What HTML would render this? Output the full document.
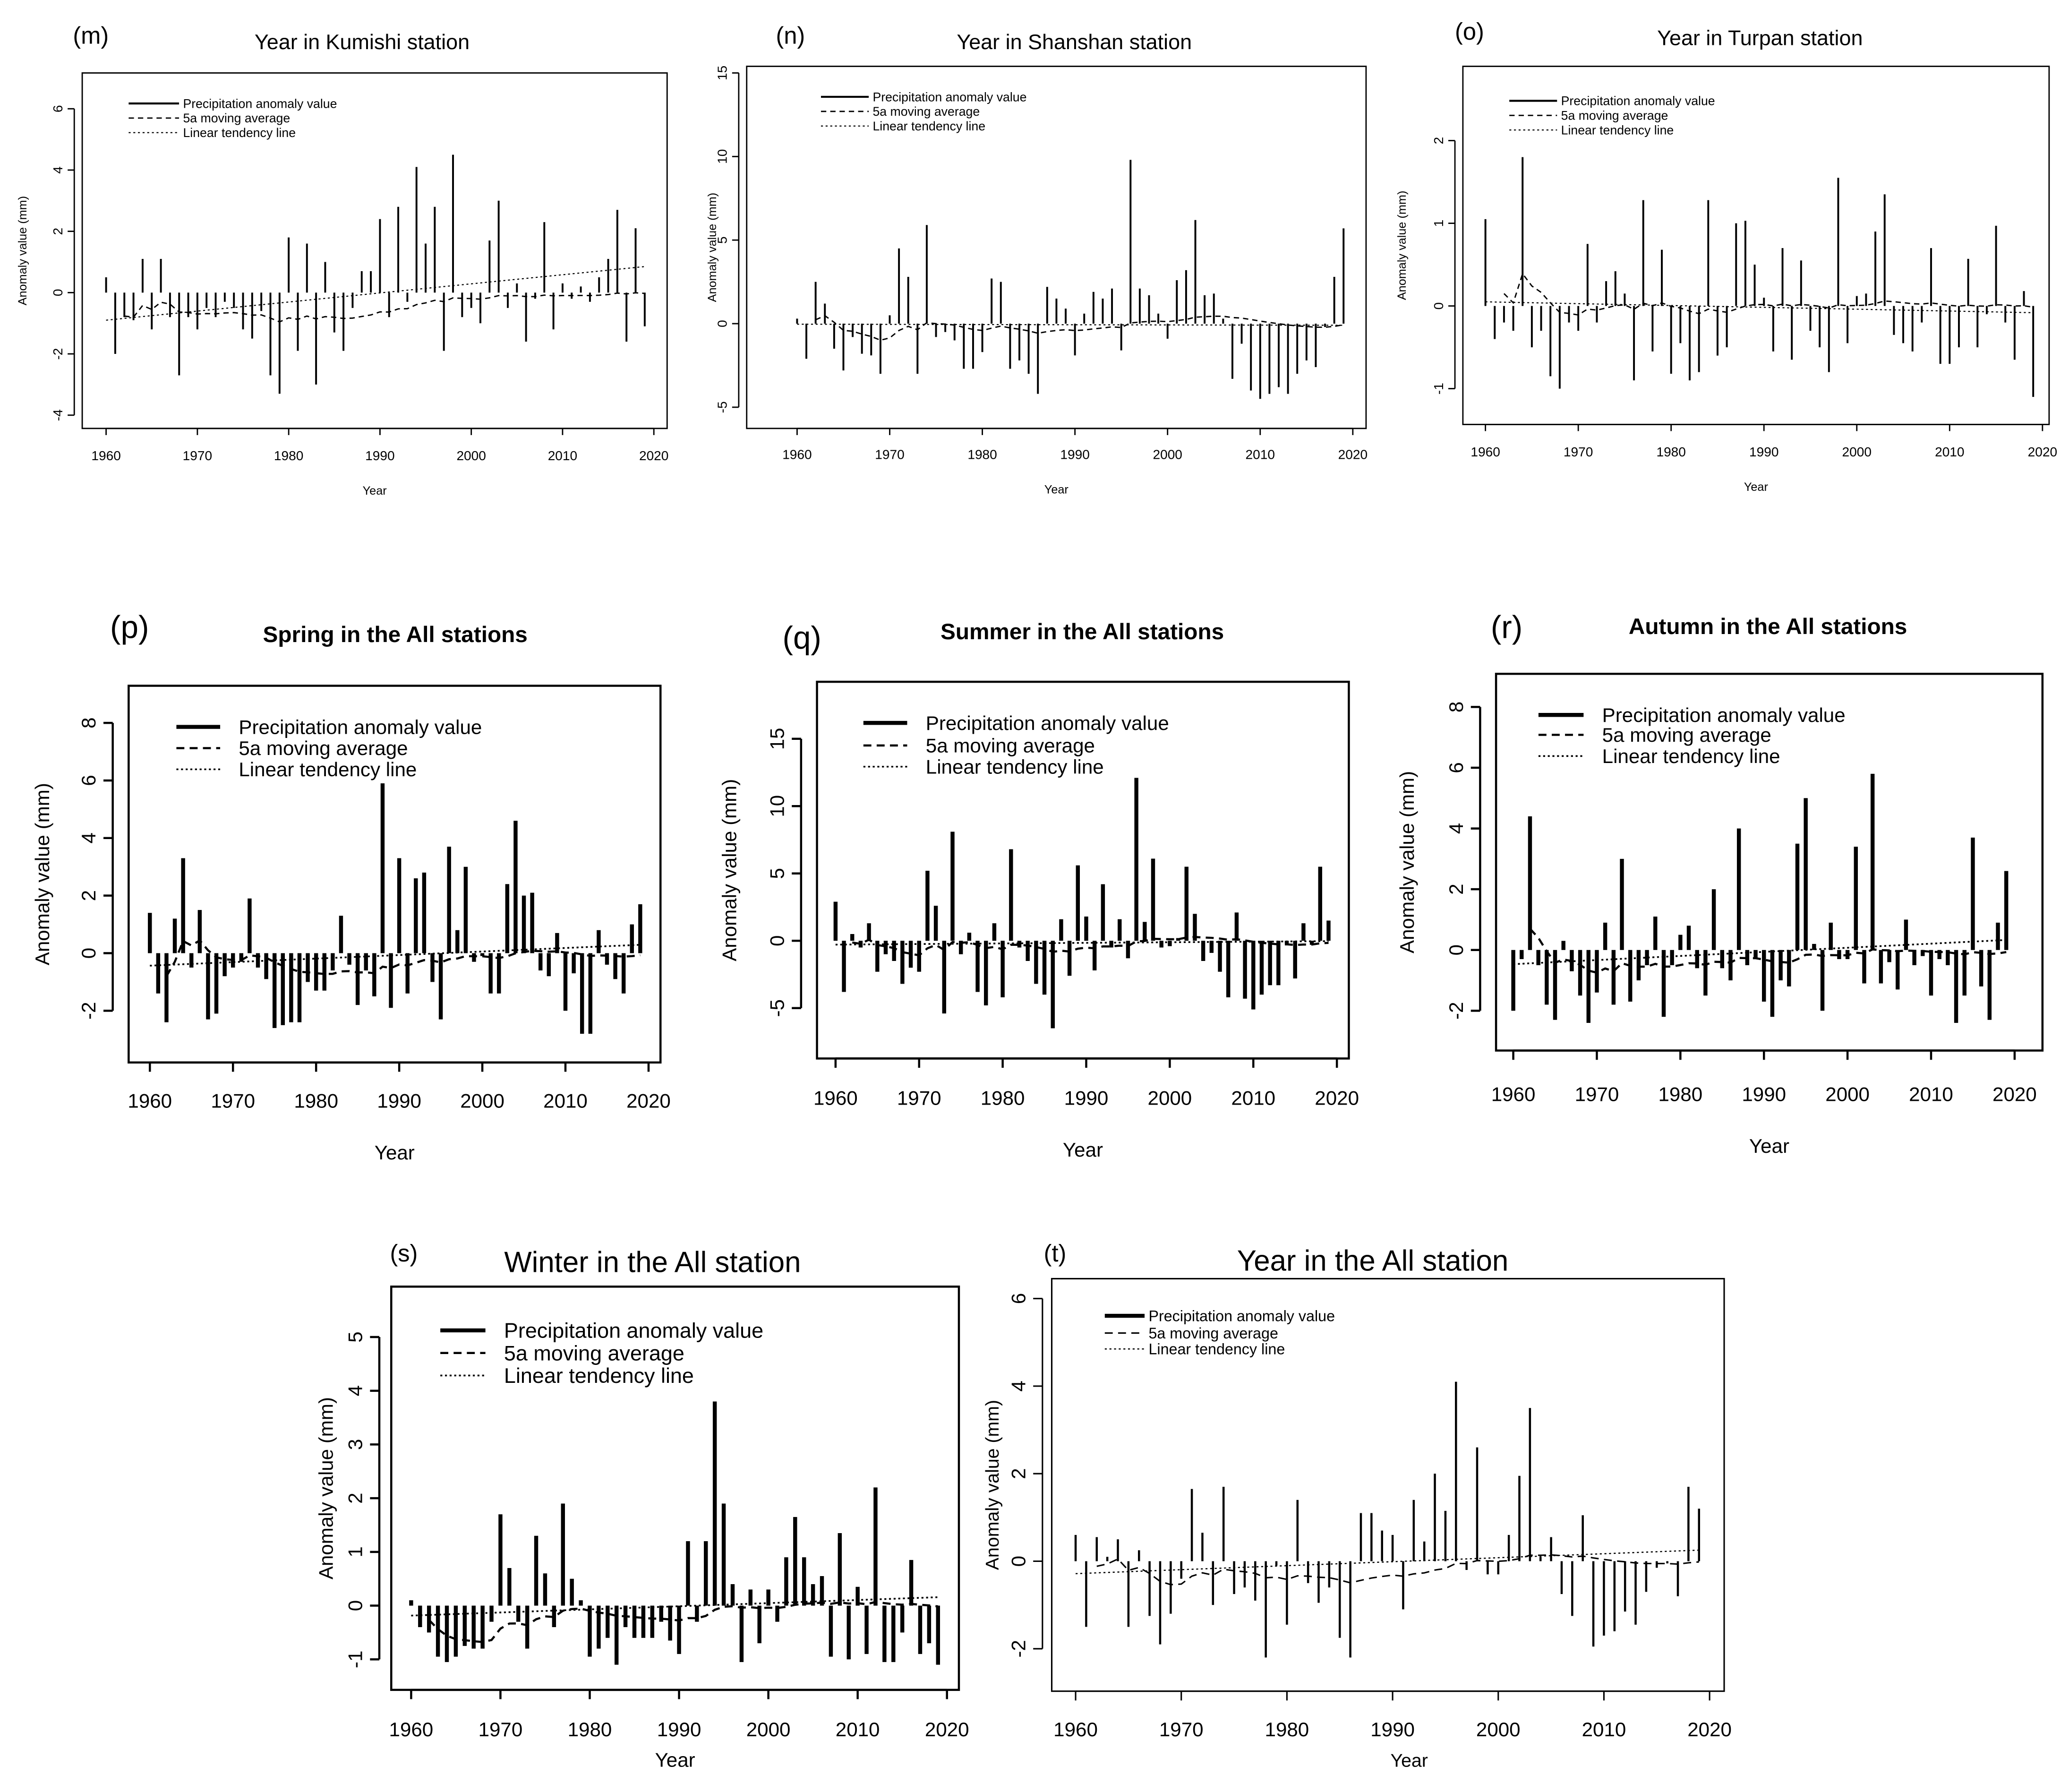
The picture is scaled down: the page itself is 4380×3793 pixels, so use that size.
<!DOCTYPE html>
<html><head><meta charset="utf-8">
<style>
html,body{margin:0;padding:0;background:#fff;}
svg{display:block;font-family:"Liberation Sans",sans-serif;}
</style></head>
<body>
<svg id="fig" xmlns="http://www.w3.org/2000/svg" width="4380" height="3793" viewBox="0 0 1560 1351" preserveAspectRatio="none"></svg>
<script>
const years = [];
for (let y = 1960; y <= 2019; y++) years.push(y);
const xTickLabels = [1960,1970,1980,1990,2000,2010,2020];

const kumishiValues = [0.5,-2.0,-0.8,-0.9,1.1,-1.2,1.1,-0.8,-2.7,-0.8,-1.2,-0.5,-0.8,-0.3,-0.5,-1.2,-1.5,-0.6,-2.7,-3.3,1.8,-1.9,1.6,-3.0,1.0,-1.3,-1.9,-0.5,0.7,0.7,2.4,-0.8,2.8,-0.3,4.1,1.6,2.8,-1.9,4.5,-0.8,-0.5,-1.0,1.7,3.0,-0.5,0.3,-1.6,-0.2,2.3,-1.2,0.3,-0.2,0.2,-0.3,0.5,1.1,2.7,-1.6,2.1,-1.1];
const kumishiTicks = [-4,-2,0,2,4,6];
const shanshanValues = [0.3,-2.1,2.5,1.2,-1.5,-2.8,-0.8,-1.8,-1.9,-3.0,0.5,4.5,2.8,-3.0,5.9,-0.8,-0.5,-1.0,-2.7,-2.7,-1.7,2.7,2.5,-2.7,-2.2,-3.0,-4.2,2.2,1.5,0.9,-1.9,0.6,1.9,1.5,2.1,-1.6,9.8,2.1,1.7,0.6,-0.9,2.6,3.2,6.2,1.7,1.8,0.3,-3.3,-1.2,-4.0,-4.5,-4.2,-3.8,-4.2,-3.0,-2.2,-2.6,-0.2,2.8,5.7];
const shanshanTicks = [-5,0,5,10,15];
const turpanValues = [1.05,-0.4,-0.2,-0.3,1.8,-0.5,-0.3,-0.85,-1.0,-0.2,-0.3,0.75,-0.2,0.3,0.42,0.15,-0.9,1.28,-0.55,0.68,-0.82,-0.45,-0.9,-0.8,1.28,-0.6,-0.5,1.0,1.03,0.5,0.1,-0.55,0.7,-0.65,0.55,-0.3,-0.5,-0.8,1.55,-0.45,0.12,0.15,0.9,1.35,-0.35,-0.45,-0.55,-0.2,0.7,-0.7,-0.7,-0.5,0.57,-0.5,-0.1,0.97,-0.2,-0.65,0.18,-1.1];
const turpanTicks = [-1,0,1,2];
const springValues = [1.4,-1.4,-2.4,1.2,3.3,-0.5,1.5,-2.3,-2.1,-0.8,-0.5,-0.3,1.9,-0.5,-0.9,-2.6,-2.5,-2.4,-2.4,-1.0,-1.3,-1.3,-0.6,1.3,-0.4,-1.8,-0.6,-1.5,5.9,-1.9,3.3,-1.4,2.6,2.8,-1.0,-2.3,3.7,0.8,3.0,-0.3,-0.1,-1.4,-1.4,2.4,4.6,2.0,2.1,-0.6,-0.8,0.7,-2.0,-0.7,-2.8,-2.8,0.8,-0.4,-0.9,-1.4,1.0,1.7];
const springTicks = [-2,0,2,4,6,8];
const summerValues = [2.9,-3.8,0.5,-0.5,1.3,-2.3,-1.0,-1.5,-3.2,-2.0,-2.3,5.2,2.6,-5.4,8.1,-1.0,0.6,-3.8,-4.8,1.3,-4.2,6.8,-0.5,-1.5,-3.2,-4.0,-6.5,1.6,-2.6,5.6,1.8,-2.2,4.2,-0.5,1.6,-1.3,12.1,1.4,6.1,-0.5,-0.4,0.2,5.5,2.0,-1.5,-0.9,-2.3,-4.2,2.1,-4.3,-5.1,-4.0,-3.3,-3.3,-0.2,-2.8,1.3,-0.3,5.5,1.5];
const summerTicks = [-5,0,5,10,15];
const autumnValues = [-2.0,-0.3,4.4,-0.5,-1.8,-2.3,0.3,-0.7,-1.5,-2.4,-1.4,0.9,-1.8,3.0,-1.7,-1.0,-0.5,1.1,-2.2,-0.5,0.5,0.8,-0.6,-1.5,2.0,-0.6,-1.0,4.0,-0.5,-0.3,-1.7,-2.2,-1.0,-1.2,3.5,5.0,0.2,-2.0,0.9,-0.3,-0.3,3.4,-1.1,5.8,-1.1,-0.4,-1.3,1.0,-0.5,-0.2,-1.5,-0.3,-0.5,-2.4,-1.5,3.7,-1.2,-2.3,0.9,2.6];
const autumnTicks = [-2,0,2,4,6,8];
const winterValues = [0.1,-0.4,-0.5,-0.95,-1.05,-0.95,-0.75,-0.8,-0.8,-0.3,1.7,0.7,-0.3,-0.8,1.3,0.6,-0.4,1.9,0.5,0.1,-0.95,-0.8,-0.6,-1.1,-0.4,-0.6,-0.6,-0.6,-0.3,-0.65,-0.9,1.2,-0.3,1.2,3.8,1.9,0.4,-1.05,0.3,-0.7,0.3,-0.3,0.9,1.65,0.9,0.4,0.55,-0.95,1.35,-1.0,0.35,-0.9,2.2,-1.05,-1.05,-0.5,0.85,-0.9,-0.7,-1.1];
const winterTicks = [-1,0,1,2,3,4,5];
const yearAllValues = [0.6,-1.5,0.55,0.1,0.5,-1.5,0.25,-1.25,-1.9,-1.2,-0.4,1.65,0.65,-1.0,1.7,-0.75,-0.6,-0.9,-2.2,-0.1,-1.45,1.4,-0.5,-0.95,-0.6,-1.75,-2.2,1.1,1.1,0.7,0.6,-1.1,1.4,0.45,2.0,1.15,4.1,-0.2,2.6,-0.3,-0.3,0.6,1.95,3.5,0.1,0.55,-0.75,-1.25,1.05,-1.95,-1.7,-1.6,-1.15,-1.45,-0.7,-0.15,-0.05,-0.8,1.7,1.2];
const yearAllTicks = [-2,0,2,4,6];

const NS = "http://www.w3.org/2000/svg";
const svg = document.getElementById('fig');
function mk(tag, attrs, parent, txt) {
  const e = document.createElementNS(NS, tag);
  for (const k in attrs) e.setAttribute(k, attrs[k]);
  if (txt !== undefined) e.textContent = txt;
  (parent || svg).appendChild(e);
  return e;
}

const panels = [
 {key:'m', letter:'(m)', title:'Year in Kumishi station', bold:false, values:kumishiValues, ticks:kumishiTicks,
  frame:[62,55,503,323], x0:80, x1:493, v0:-4, p0:313, v1:6, p1:82, bw:1.4, tfs:10, titleFs:16, titleX:273, titleY:37, letX:55, letY:33, letFs:18,
  xlY:347, yearY:373, ylabX:20, legX:97, legLen:38, legY2:[78,89,100], legFs:9.5, labFs:9, lw:1},
 {key:'n', letter:'(n)', title:'Year in Shanshan station', bold:false, values:shanshanValues, ticks:shanshanTicks,
  frame:[563,50,1030,323], x0:601, x1:1020, v0:-5, p0:307, v1:15, p1:55, bw:1.4, tfs:10, titleFs:16, titleX:810, titleY:37, letX:585, letY:33, letFs:18,
  xlY:346, yearY:372, ylabX:540, legX:619, legLen:36, legY2:[73,84,95], legFs:9.5, labFs:9, lw:1},
 {key:'o', letter:'(o)', title:'Year in Turpan station', bold:false, values:turpanValues, ticks:turpanTicks,
  frame:[1103,50,1545,320], x0:1120, x1:1540, v0:-1, p0:293, v1:2, p1:106, bw:1.4, tfs:10, titleFs:16, titleX:1327, titleY:34, letX:1097, letY:30, letFs:18,
  xlY:344, yearY:370, ylabX:1060, legX:1138, legLen:36, legY2:[76,87,98], legFs:9.5, labFs:9, lw:1},
 {key:'p', letter:'(p)', title:'Spring in the All stations', bold:true, values:springValues, ticks:springTicks,
  frame:[97,517,498,801], x0:113, x1:489, v0:-2, p0:762, v1:8, p1:545, bw:3, tfs:15, titleFs:17, titleX:298, titleY:484, letX:83, letY:481, letFs:24,
  xlY:835, yearY:874, ylabX:37, legX:133, legLen:33, legY2:[548,564,580], legFs:15, labFs:15, lw:1.6, off:12},
 {key:'q', letter:'(q)', title:'Summer in the All stations', bold:true, values:summerValues, ticks:summerTicks,
  frame:[616,514,1017,798], x0:630, x1:1008, v0:-5, p0:760, v1:15, p1:557, bw:3, tfs:15, titleFs:17, titleX:816, titleY:482, letX:590, letY:489, letFs:24,
  xlY:833, yearY:872, ylabX:555, legX:651, legLen:33, legY2:[545,562,578], legFs:15, labFs:15, lw:1.6, off:12},
 {key:'r', letter:'(r)', title:'Autumn in the All stations', bold:true, values:autumnValues, ticks:autumnTicks,
  frame:[1128,508,1540,792], x0:1141, x1:1519, v0:-2, p0:762, v1:8, p1:533, bw:3, tfs:15, titleFs:17, titleX:1333, titleY:478, letX:1124, letY:481, letFs:24,
  xlY:830, yearY:869, ylabX:1066, legX:1160, legLen:34, legY2:[539,554,570], legFs:15, labFs:15, lw:1.6, off:12},
 {key:'s', letter:'(s)', title:'Winter in the All station', bold:false, values:winterValues, ticks:winterTicks,
  frame:[295,970,723,1274], x0:310, x1:714, v0:-1, p0:1251, v1:5, p1:1008, bw:3, tfs:15, titleFs:22, titleX:492, titleY:959, letX:294, letY:951, letFs:18,
  xlY:1309, yearY:1332, ylabX:251, legX:332, legLen:34, legY2:[1003,1020,1037], legFs:16, labFs:15, lw:1.6, off:9},
 {key:'t', letter:'(t)', title:'Year in the All station', bold:false, values:yearAllValues, ticks:yearAllTicks,
  frame:[793,964,1300,1275], x0:811, x1:1289, v0:-2, p0:1243, v1:6, p1:979, bw:1.6, tfs:15, titleFs:22, titleX:1035, titleY:958, letX:787, letY:951, letFs:18,
  xlY:1309, yearY:1332, ylabX:753, legX:833, legLen:30, legY2:[992,1005,1017], legFs:11.5, labFs:14, lw:1.1, off:7}
];

function runningMean(v){
  const out=[];let s=0;
  for(let i=0;i<v.length;i++){s+=v[i]; if(i>=2) out.push([i,s/(i+1)]);}
  return out;
}
function linFit(v){
  const n=v.length;let sx=0,sy=0,sxx=0,sxy=0;
  v.forEach((y,i)=>{sx+=i;sy+=y;sxx+=i*i;sxy+=i*y;});
  const b=(n*sxy-sx*sy)/(n*sxx-sx*sx);const a=(sy-b*sx)/n;return [a,b];
}

panels.forEach(p=>{
  const g = mk('g',{});
  
  
  const X = yr => p.x0 + (yr-1960)*(p.x1-p.x0)/60;
  const Y = v => p.p0 + (v-p.v0)*(p.p1-p.p0)/(p.v1-p.v0);
  const [fx0,fy0,fx1,fy1]=p.frame;
  const fr = mk('rect',{x:fx0,y:fy0,width:fx1-fx0,height:fy1-fy0,fill:'none',stroke:'#000','stroke-width':p.lw},g);
  
  
  const tw = p.bold ? 'bold':'normal';
  const t = mk('text',{x:p.titleX,y:p.titleY,'text-anchor':'middle','font-size':p.titleFs,'font-weight':tw},g,p.title);
  
  
  const l = mk('text',{x:p.letX,y:p.letY,'font-size':p.letFs},g,p.letter);
  
  
  const tl = p.tfs>12?7:5;
  mk('line',{x1:X(1960),x2:X(2020),y1:fy1,y2:fy1,stroke:'#000','stroke-width':p.lw},g);
  xTickLabels.forEach(v=>{
    mk('line',{x1:X(v),x2:X(v),y1:fy1,y2:fy1+tl,stroke:'#000','stroke-width':p.lw},g);
    const tx = mk('text',{x:X(v),y:p.xlY,'text-anchor':'middle','font-size':p.tfs},g,String(v));
    
    
  });
  const xt = mk('text',{x:(fx0+fx1)/2+ (p.key==='t'?16:0),y:p.yearY,'text-anchor':'middle','font-size':p.labFs},g,'Year');
  
  
  const ax = fx0 - (p.off || 6);
  mk('line',{x1:ax,x2:ax,y1:Y(p.ticks[0]),y2:Y(p.ticks[p.ticks.length-1]),stroke:'#000','stroke-width':p.lw},g);
  p.ticks.forEach(v=>{
    mk('line',{x1:ax-tl,x2:ax,y1:Y(v),y2:Y(v),stroke:'#000','stroke-width':p.lw},g);
    const lx = ax-tl-(p.tfs>12?6:4);
    const ty = mk('text',{x:lx,y:Y(v),'text-anchor':'middle','font-size':p.tfs,transform:`rotate(-90 ${lx} ${Y(v)})`},g,String(v));
    
    
  });
  const ym=(fy0+fy1)/2;
  const yl = mk('text',{x:p.ylabX,y:ym,'text-anchor':'middle','font-size':p.labFs,transform:`rotate(-90 ${p.ylabX} ${ym})`},g,'Anomaly value (mm)');
  
  
  p.values.forEach((v,i)=>{
    const x=X(years[i]);
    const b = mk('rect',{x:x-p.bw/2,y:Math.min(Y(v),Y(0)),width:p.bw,height:Math.abs(Y(v)-Y(0)),fill:'#000'},g);
    
    
  });
  const ma = runningMean(p.values);
  const mp = mk('polyline',{points:ma.map(([i,v])=>X(years[i])+','+Y(v)).join(' '),fill:'none',stroke:'#000','stroke-width':p.lw,'stroke-dasharray':p.tfs>12?'6,4':'4,3'},g);
  
  
  const [a,b]=linFit(p.values);
  const lt = mk('line',{x1:X(1960),y1:Y(a),x2:X(2019),y2:Y(a+b*59),stroke:'#000','stroke-width':p.lw*0.8,'stroke-dasharray':'1.5,2'},g);
  
  
  const ly = p.legY2;
  const names=['Precipitation anomaly value','5a moving average','Linear tendency line'];
  const dashes=[null, p.tfs>12?'6,4':'4,3','1.5,2'];
  const widths=[p.tfs>12?3:1.5,p.lw,p.lw*0.8];
  const gap = p.legFs>12 ? 14 : 3;
  names.forEach((n,k)=>{
    const la = {x1:p.legX,x2:p.legX+p.legLen,y1:ly[k],y2:ly[k],stroke:'#000','stroke-width':widths[k]};
    if(dashes[k]) la['stroke-dasharray']=dashes[k];
    const ln = mk('line',la,g);
    
    
    const lt2 = mk('text',{x:p.legX+p.legLen+gap,y:ly[k]+p.legFs*0.35,'font-size':p.legFs},g,n);
    
    
  });
});
</script>
</body></html>
